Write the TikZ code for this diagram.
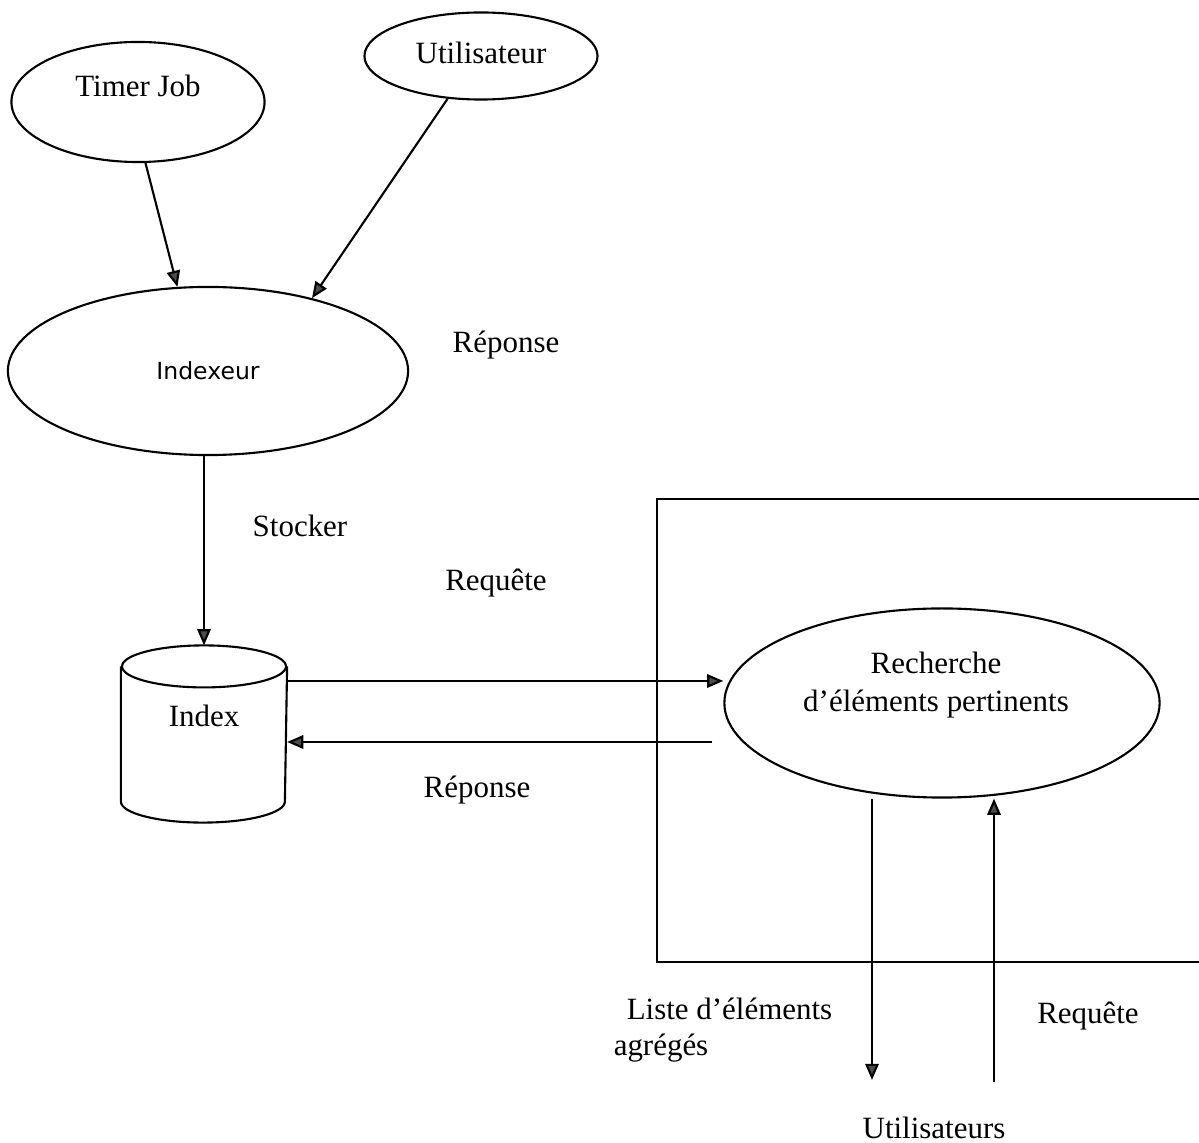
\documentclass[tikz,border=0pt]{standalone}
\usepackage{fontspec}
\setmainfont{Liberation Serif}
\newfontfamily\sansidx{DejaVu Sans}
\usetikzlibrary{shapes.geometric,arrows.meta}

\begin{document}
\begin{tikzpicture}[x=0.01cm,y=-0.01cm,line width=0.6pt,
  >={Triangle[length=4.6pt,width=3.8pt,fill=black!70]},
  every node/.style={font=\fontsize{8.8}{10.6}\selectfont},
  bulle/.style={draw,ellipse,inner sep=0pt}]

\useasboundingbox (0,0) rectangle (1199,1143);

%Ellipsen
\node[bulle,minimum width=2.53cm,minimum height=1.20cm] (tj) at (138,102) {};
\node at (138,86) {Timer Job};
\node[bulle,minimum width=2.33cm,minimum height=0.87cm] (ut) at (481,56) {};
\node at (481,53) {Utilisateur};
\node[bulle,minimum width=4.00cm,minimum height=1.68cm] (idx) at (208,371) {\sansidx\fontsize{6.7}{8}\selectfont Indexeur};
\node[bulle,minimum width=4.35cm,minimum height=1.89cm] (rech) at (942,703) {};
\node[align=center] at (936,685) {Recherche\\d'éléments pertinents};

%Datenbank
\node[minimum width=1.64cm,minimum height=1.75cm,inner sep=0pt] (db) at (204,734) {};
\draw ([yshift=-0.21cm]db.north) ellipse (82 and 21);
\draw ([yshift=-0.21cm]db.north west) -- ([yshift=0.21cm]db.south west)
  arc (180:0:82 and 21) -- ([yshift=-0.21cm]db.north east);
\node at (204,716) {Index};

%Rahmen
\draw (657,499) rectangle (1230,962);

%Pfeile
\draw[->] (tj.277) -- (idx.110);
\draw[->] (ut.232) -- (idx.35);
\draw[->] (db.north |- idx.south) -- (db.north);
\draw[->] (db.east |- 0,681) -- (rech.west |- 0,681);
\draw[->] ([xshift=-0.11cm]rech.west |- 0,742) -- (db.east |- 0,742);
\coordinate (bas) at (872,1080);
\coordinate (haut) at (994,1082);
\draw[->] (rech.south -| bas) -- (bas);
\draw[->] (haut) -- (haut |- rech.south);

%Beschriftungen
\node at (506,345) {Réponse};
\node at (300,526) {Stocker};
\node at (496,583) {Requête};
\node at (477,790) {Réponse};
\node[anchor=west] at (614,1009) {Liste d'éléments};
\node[anchor=west] at (601,1048) {agrégés};
\node at (1088,1016) {Requête};
\node (us) at (934,1128) {Utilisateurs};

\end{tikzpicture}
\end{document}
